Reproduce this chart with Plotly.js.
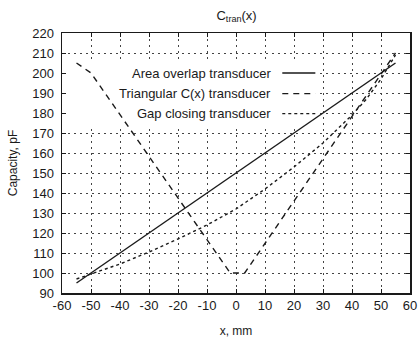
<!DOCTYPE html>
<html>
<head>
<meta charset="utf-8">
<script src="https://cdn.plot.ly/plotly-3.0.1.min.js"></script>
<style>html,body{margin:0;padding:0;background:#fff}#chart{width:418px;height:341px}</style>
</head>
<body>
<div id="chart"></div>
<script>
// ---- data ----
const seriesNames = ["Area overlap transducer", "Triangular C(x) transducer", "Gap closing transducer"];

const xArea = [-55, 55];
const cArea = [95, 205];

const xTri = [-55, -50, -2, 3, 55];
const cTri = [205, 200, 100, 100, 210];

const xGap = [-55, -50, -40, -30, -20, -10, 0, 10, 20, 30, 35, 40, 45, 50, 55];
const cGap = [97, 99.5, 104.5, 110.5, 117, 124, 132, 142, 153, 165, 172, 179, 187, 197, 209];

const xTicks = [-60, -50, -40, -30, -20, -10, 0, 10, 20, 30, 40, 50, 60];
const yTicks = [90, 100, 110, 120, 130, 140, 150, 160, 170, 180, 190, 200, 210, 220];

// ---- styles ----
const FONT = "Liberation Sans, Arial, Helvetica, sans-serif";
const ink = "#1a1a1a";
const dashes = ["solid", "6px,5px", "3px,3px"];
const xRange = [xTicks[0], xTicks[xTicks.length - 1]];
const yRange = [yTicks[0], yTicks[yTicks.length - 1]];

// key background (opaque box hiding grid, under the curves) in axis fractions
const keyBox = {x0: 0, x1: 0.739, y0: 0.641, y1: 0.887};
const fx = f => xRange[0] + f * (xRange[1] - xRange[0]);
const fy = f => yRange[0] + f * (yRange[1] - yRange[0]);

const traces = [
  {x: [fx(keyBox.x0), fx(keyBox.x1), fx(keyBox.x1), fx(keyBox.x0), fx(keyBox.x0)],
   y: [fy(keyBox.y0), fy(keyBox.y0), fy(keyBox.y1), fy(keyBox.y1), fy(keyBox.y0)],
   mode: "lines", fill: "toself", fillcolor: "#ffffff", line: {width: 0, color: "rgba(0,0,0,0)"},
   hoverinfo: "skip", showlegend: false, cliponaxis: true},
  {x: xArea, y: cArea, name: seriesNames[0], mode: "lines", line: {color: ink, width: 1.4, dash: dashes[0]}},
  {x: xTri, y: cTri, name: seriesNames[1], mode: "lines", line: {color: ink, width: 1.4, dash: dashes[1]}},
  {x: xGap, y: cGap, name: seriesNames[2], mode: "lines", line: {color: ink, width: 1.4, dash: dashes[2]}}
];

// hand-built key (text right-aligned, sample to the right)
const keyRowsY = [0.846, 0.767, 0.690];
const annotations = seriesNames.map((n, i) => ({
  xref: "paper", yref: "paper", x: 0.607, y: keyRowsY[i],
  xanchor: "right", yanchor: "middle", text: n, showarrow: false,
  font: {family: FONT, size: 13, color: ink}
}));
const shapes = seriesNames.map((n, i) => ({
  type: "line", xref: "paper", yref: "paper", x0: 0.633, x1: 0.728, y0: keyRowsY[i], y1: keyRowsY[i],
  line: {color: ink, width: 1.4, dash: dashes[i]}, layer: "above"
}));

const axisCommon = {
  showgrid: true, gridcolor: "#444", gridwidth: 1, griddash: "2px,4px",
  zeroline: false, showline: true, linecolor: ink, linewidth: 1.5, mirror: "ticks",
  ticks: "inside", ticklen: 4, tickwidth: 1, tickcolor: ink,
  tickfont: {family: FONT, size: 13, color: ink}, automargin: false
};

const layout = {
  width: 418, height: 341,
  margin: {l: 62, r: 8, t: 33, b: 48},
  paper_bgcolor: "#fff", plot_bgcolor: "#fff",
  showlegend: false,
  font: {family: FONT, color: ink},
  title: {text: "C<sub>tran</sub>(x)", x: 0.566, xanchor: "center", y: 0.956, yanchor: "middle",
          font: {family: FONT, size: 13, color: ink}},
  xaxis: Object.assign({}, axisCommon, {
    range: xRange, tickvals: xTicks, ticktext: xTicks.map(String),
    title: {text: "x, mm", font: {family: FONT, size: 12, color: ink}, standoff: 14}
  }),
  yaxis: Object.assign({}, axisCommon, {
    range: yRange, tickvals: yTicks, ticktext: yTicks.map(String), ticklabelstandoff: 4,
    title: {text: "Capacity, pF", font: {family: FONT, size: 12, color: ink}, standoff: 12}
  }),
  annotations: annotations,
  shapes: shapes
};

Plotly.newPlot("chart", traces, layout, {staticPlot: true, displayModeBar: false});
</script>
</body>
</html>
